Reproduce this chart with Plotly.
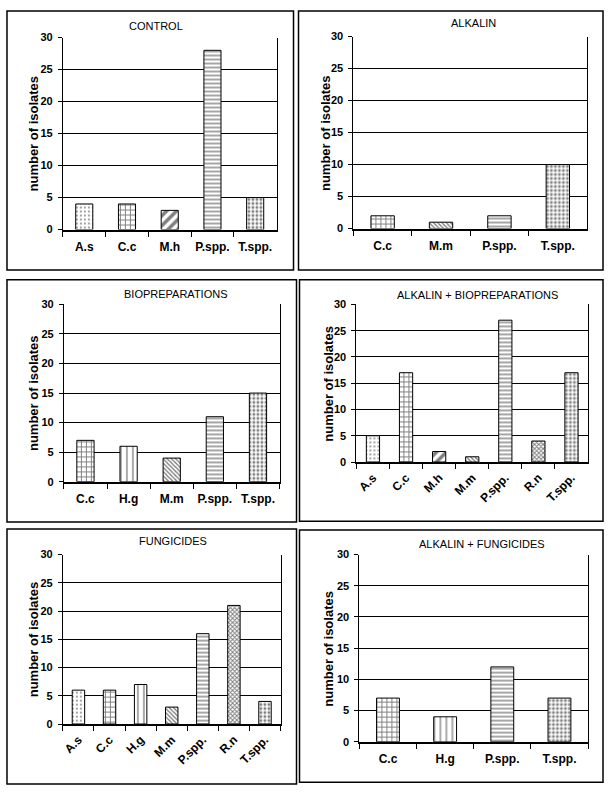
import plotly.graph_objects as go

W, H = 608, 797

titles = ["CONTROL", "ALKALIN", "BIOPREPARATIONS", "ALKALIN + BIOPREPARATIONS",
          "FUNGICIDES", "ALKALIN + FUNGICIDES"]

control_cats = ["A.s", "C.c", "M.h", "P.spp.", "T.spp."]
control_vals = [4, 4, 3, 28, 5]

alkalin_cats = ["C.c", "M.m", "P.spp.", "T.spp."]
alkalin_vals = [2, 1, 2, 10]

bioprep_cats = ["C.c", "H.g", "M.m", "P.spp.", "T.spp."]
bioprep_vals = [7, 6, 4, 11, 15]

alk_bio_cats = ["A.s", "C.c", "M.h", "M.m", "P.spp.", "R.n", "T.spp."]
alk_bio_vals = [5, 17, 2, 1, 27, 4, 17]

fung_cats = ["A.s", "C.c", "H.g", "M.m", "P.spp.", "R.n", "T.spp."]
fung_vals = [6, 6, 7, 3, 16, 21, 4]

alk_fung_cats = ["C.c", "H.g", "P.spp.", "T.spp."]
alk_fung_vals = [7, 4, 12, 7]

y_ticks = [0, 5, 10, 15, 20, 25, 30]

# pattern per organism (shape, size, solidity)
patterns = {
    "A.s": (".", 4, 0.18),
    "C.c": ("+", 5, 0.35),
    "M.h": ("/", 7, 0.5),
    "M.m": ("\\", 3, 0.45),
    "P.spp.": ("-", 4, 0.35),
    "R.n": ("x", 3, 0.55),
    "T.spp.": (".", 4, 0.42),
    "H.g": ("|", 6, 0.22),
}

panels = [
    (control_cats, control_vals, 0),
    (alkalin_cats, alkalin_vals, 0),
    (bioprep_cats, bioprep_vals, 0),
    (alk_bio_cats, alk_bio_vals, -45),
    (fung_cats, fung_vals, -45),
    (alk_fung_cats, alk_fung_vals, 0),
]

# layout geometry in pixels
plot_boxes = [  # x0, x1, y0(top), y1(bottom)
    (62, 276, 32, 227),
    (353, 587, 31, 226),
    (63, 279, 303, 483),
    (356, 588, 303, 463),
    (62, 280, 557, 729),
    (359, 588, 557, 747),
]
frames = [
    (6, 293, 5, 268),
    (298, 603, 5, 268),
    (6, 296, 278, 524),
    (299, 603, 278, 523),
    (6, 296, 531, 790),
    (299, 603, 532, 788),
]
title_pos = [(155, 20), (473, 17), (175, 292), (477, 293), (172, 543), (482, 546)]
ytitle_x = [33, 325, 32, 328, 32, 328]

FONT = "Liberation Sans, Arial, sans-serif"

fig = go.Figure()
layout = dict(width=W, height=H, margin=dict(l=0, r=0, t=0, b=0),
              paper_bgcolor="white", plot_bgcolor="white", showlegend=False,
              bargap=0.6, font=dict(family=FONT, color="black"))
shapes = []
annotations = []

for i, (cats, vals, rot) in enumerate(panels):
    n = i + 1
    xa = "x" if n == 1 else f"x{n}"
    ya = "y" if n == 1 else f"y{n}"
    x0, x1, y0, y1 = plot_boxes[i]
    fig.add_trace(go.Bar(
        x=cats, y=vals, xaxis=xa, yaxis=ya,
        marker=dict(
            color="white",
            line=dict(color="black", width=1),
            pattern=dict(
                shape=[patterns[c][0] for c in cats],
                size=[patterns[c][1] for c in cats],
                solidity=[patterns[c][2] for c in cats],
                fgcolor="black", bgcolor="white", fillmode="overlay",
            ),
        ),
        width=0.4,
    ))
    layout["xaxis" if n == 1 else f"xaxis{n}"] = dict(
        domain=[x0 / W, x1 / W], anchor=ya, type="category",
        showline=True, linecolor="black", linewidth=2, mirror=False,
        ticks="outside", ticklen=5, tickcolor="black", tickwidth=1,
        tickson="boundaries", showgrid=False, tickangle=rot,
        ticklabelstandoff=5 if rot == 0 else 2,
        tickfont=dict(family=FONT, size=12, color="black", weight="bold"),
        fixedrange=True,
    )
    layout["yaxis" if n == 1 else f"yaxis{n}"] = dict(
        domain=[1 - y1 / H, 1 - y0 / H], anchor=xa, range=[0, 30],
        tickvals=y_ticks, showline=True, linecolor="black", linewidth=1,
        mirror=True, ticks="outside", ticklen=4, tickcolor="black",
        showgrid=True, gridcolor="black", gridwidth=1, zeroline=False,
        ticklabelstandoff=3,
        tickfont=dict(family=FONT, size=11, color="black", weight="bold"),
        fixedrange=True,
    )
    fx0, fx1, fy0, fy1 = frames[i]
    shapes.append(dict(type="rect", xref="paper", yref="paper",
                       x0=fx0 / W, x1=fx1 / W, y0=1 - fy1 / H, y1=1 - fy0 / H,
                       line=dict(color="black", width=1.5), layer="below"))
    tx, ty = title_pos[i]
    annotations.append(dict(text=titles[i], xref="paper", yref="paper",
                            x=tx / W, y=1 - ty / H, showarrow=False,
                            xanchor="center", yanchor="middle",
                            font=dict(family=FONT, size=11, color="black")))
    annotations.append(dict(text="number of isolates", xref="paper", yref="paper",
                            x=ytitle_x[i] / W, y=1 - ((y0 + y1) / 2) / H,
                            showarrow=False, textangle=-90,
                            xanchor="center", yanchor="middle",
                            font=dict(family=FONT, size=13, color="black", weight="bold")))

layout["shapes"] = shapes
layout["annotations"] = annotations
fig.update_layout(**layout)
fig.write_html("out.html", config={"displayModeBar": False},
               post_script="document.body.style.margin='0';document.body.style.overflow='hidden';")
